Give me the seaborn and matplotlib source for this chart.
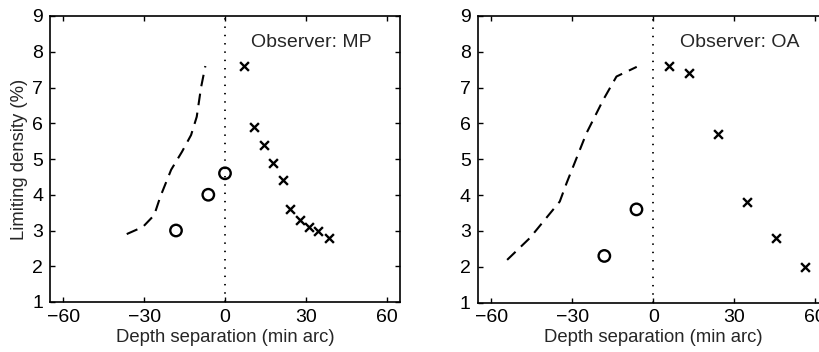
import matplotlib
matplotlib.use("Agg")
import matplotlib.pyplot as plt
import seaborn as sns
import pandas as pd

# ---- data ----
mp_cross_x = [7.2, 10.6, 14.3, 17.9, 21.5, 24.1, 27.7, 31.3, 34.7, 38.5]
mp_cross_y = [7.6, 5.9, 5.4, 4.9, 4.4, 3.6, 3.3, 3.1, 3.0, 2.8]
mp_circ_x = [-18.2, -6.2, 0.0]
mp_circ_y = [3.0, 4.0, 4.6]
mp_dash_x = [-36.5, -30.5, -26.3, -24.0, -20.0, -16.0, -12.6, -10.5, -8.9, -7.3]
mp_dash_y = [2.9, 3.1, 3.43, 3.95, 4.7, 5.2, 5.67, 6.18, 7.0, 7.6]

oa_cross_x = [5.9, 13.3, 24.1, 34.8, 45.6, 56.3]
oa_cross_y = [7.6, 7.4, 5.7, 3.8, 2.8, 2.0]
oa_circ_x = [-18.1, -6.2]
oa_circ_y = [2.3, 3.6]
oa_dash_x = [-54.1, -45.7, -34.6, -32.1, -24.7, -18.5, -13.6, -6.1]
oa_dash_y = [2.19, 2.8, 3.82, 4.33, 5.73, 6.66, 7.31, 7.58]

x_ticks = [-60, -30, 0, 30, 60]
y_ticks = [1, 2, 3, 4, 5, 6, 7, 8, 9]
titles = ["Observer: MP", "Observer: OA"]
xlabel = "Depth separation (min arc)"
ylabel = "Limiting density (%)"

sns.set_style("ticks")
plt.rcParams['font.family'] = ['Liberation Sans', 'DejaVu Sans']
plt.rcParams['font.size'] = 13

fig = plt.figure(figsize=(8.19, 3.52), dpi=100)
W, H = 819, 352
ax1 = fig.add_axes([50 / W, 50 / H, 350 / W, 286 / H])
ax2 = fig.add_axes([477.7 / W, 49.5 / H, 351 / W, 286.5 / H])

panels = [
    (ax1, mp_cross_x, mp_cross_y, mp_circ_x, mp_circ_y, mp_dash_x, mp_dash_y, titles[0]),
    (ax2, oa_cross_x, oa_cross_y, oa_circ_x, oa_circ_y, oa_dash_x, oa_dash_y, titles[1]),
]

for i, (ax, cx, cy, ox, oy, dx, dy, title) in enumerate(panels):
    dash_df = pd.DataFrame({"x": dx, "y": dy})
    sns.lineplot(data=dash_df, x="x", y="y", ax=ax, sort=False, color="black",
                 lw=1.5, estimator=None)
    ax.lines[-1].set_dashes([5.6, 3.6])
    ax.axvline(0, color="black", lw=1.3, ls=(0, (0.8, 3.8)))
    sns.scatterplot(x=ox, y=oy, ax=ax, marker="o", s=68, facecolor="none",
                    edgecolor="black", linewidth=1.7)
    sns.scatterplot(x=cx, y=cy, ax=ax, marker="x", s=40, color="black",
                    linewidth=1.7)
    ax.set_xlim(-65, 65)
    ax.set_ylim(1, 9)
    ax.set_xticks(x_ticks)
    ax.set_xticklabels(["\u221260", "\u221230", "0", "30", "60"])
    ax.set_yticks(y_ticks)
    ax.tick_params(direction="in", top=True, right=True, length=3.5, width=1,
                   labelsize=14, pad=5, colors="black")
    for s in ax.spines.values():
        s.set_visible(True)
        s.set_linewidth(1.2)
        s.set_color("black")
    ax.set_xlabel(xlabel, fontsize=13.3, labelpad=2)
    if i == 0:
        ax.set_ylabel(ylabel, fontsize=13.3, labelpad=3)
    else:
        ax.set_ylabel("")
    ax.text(0.575, 0.907, title, transform=ax.transAxes, fontsize=14,
            ha="left", va="center")

fig.savefig("out.png", dpi=100)
